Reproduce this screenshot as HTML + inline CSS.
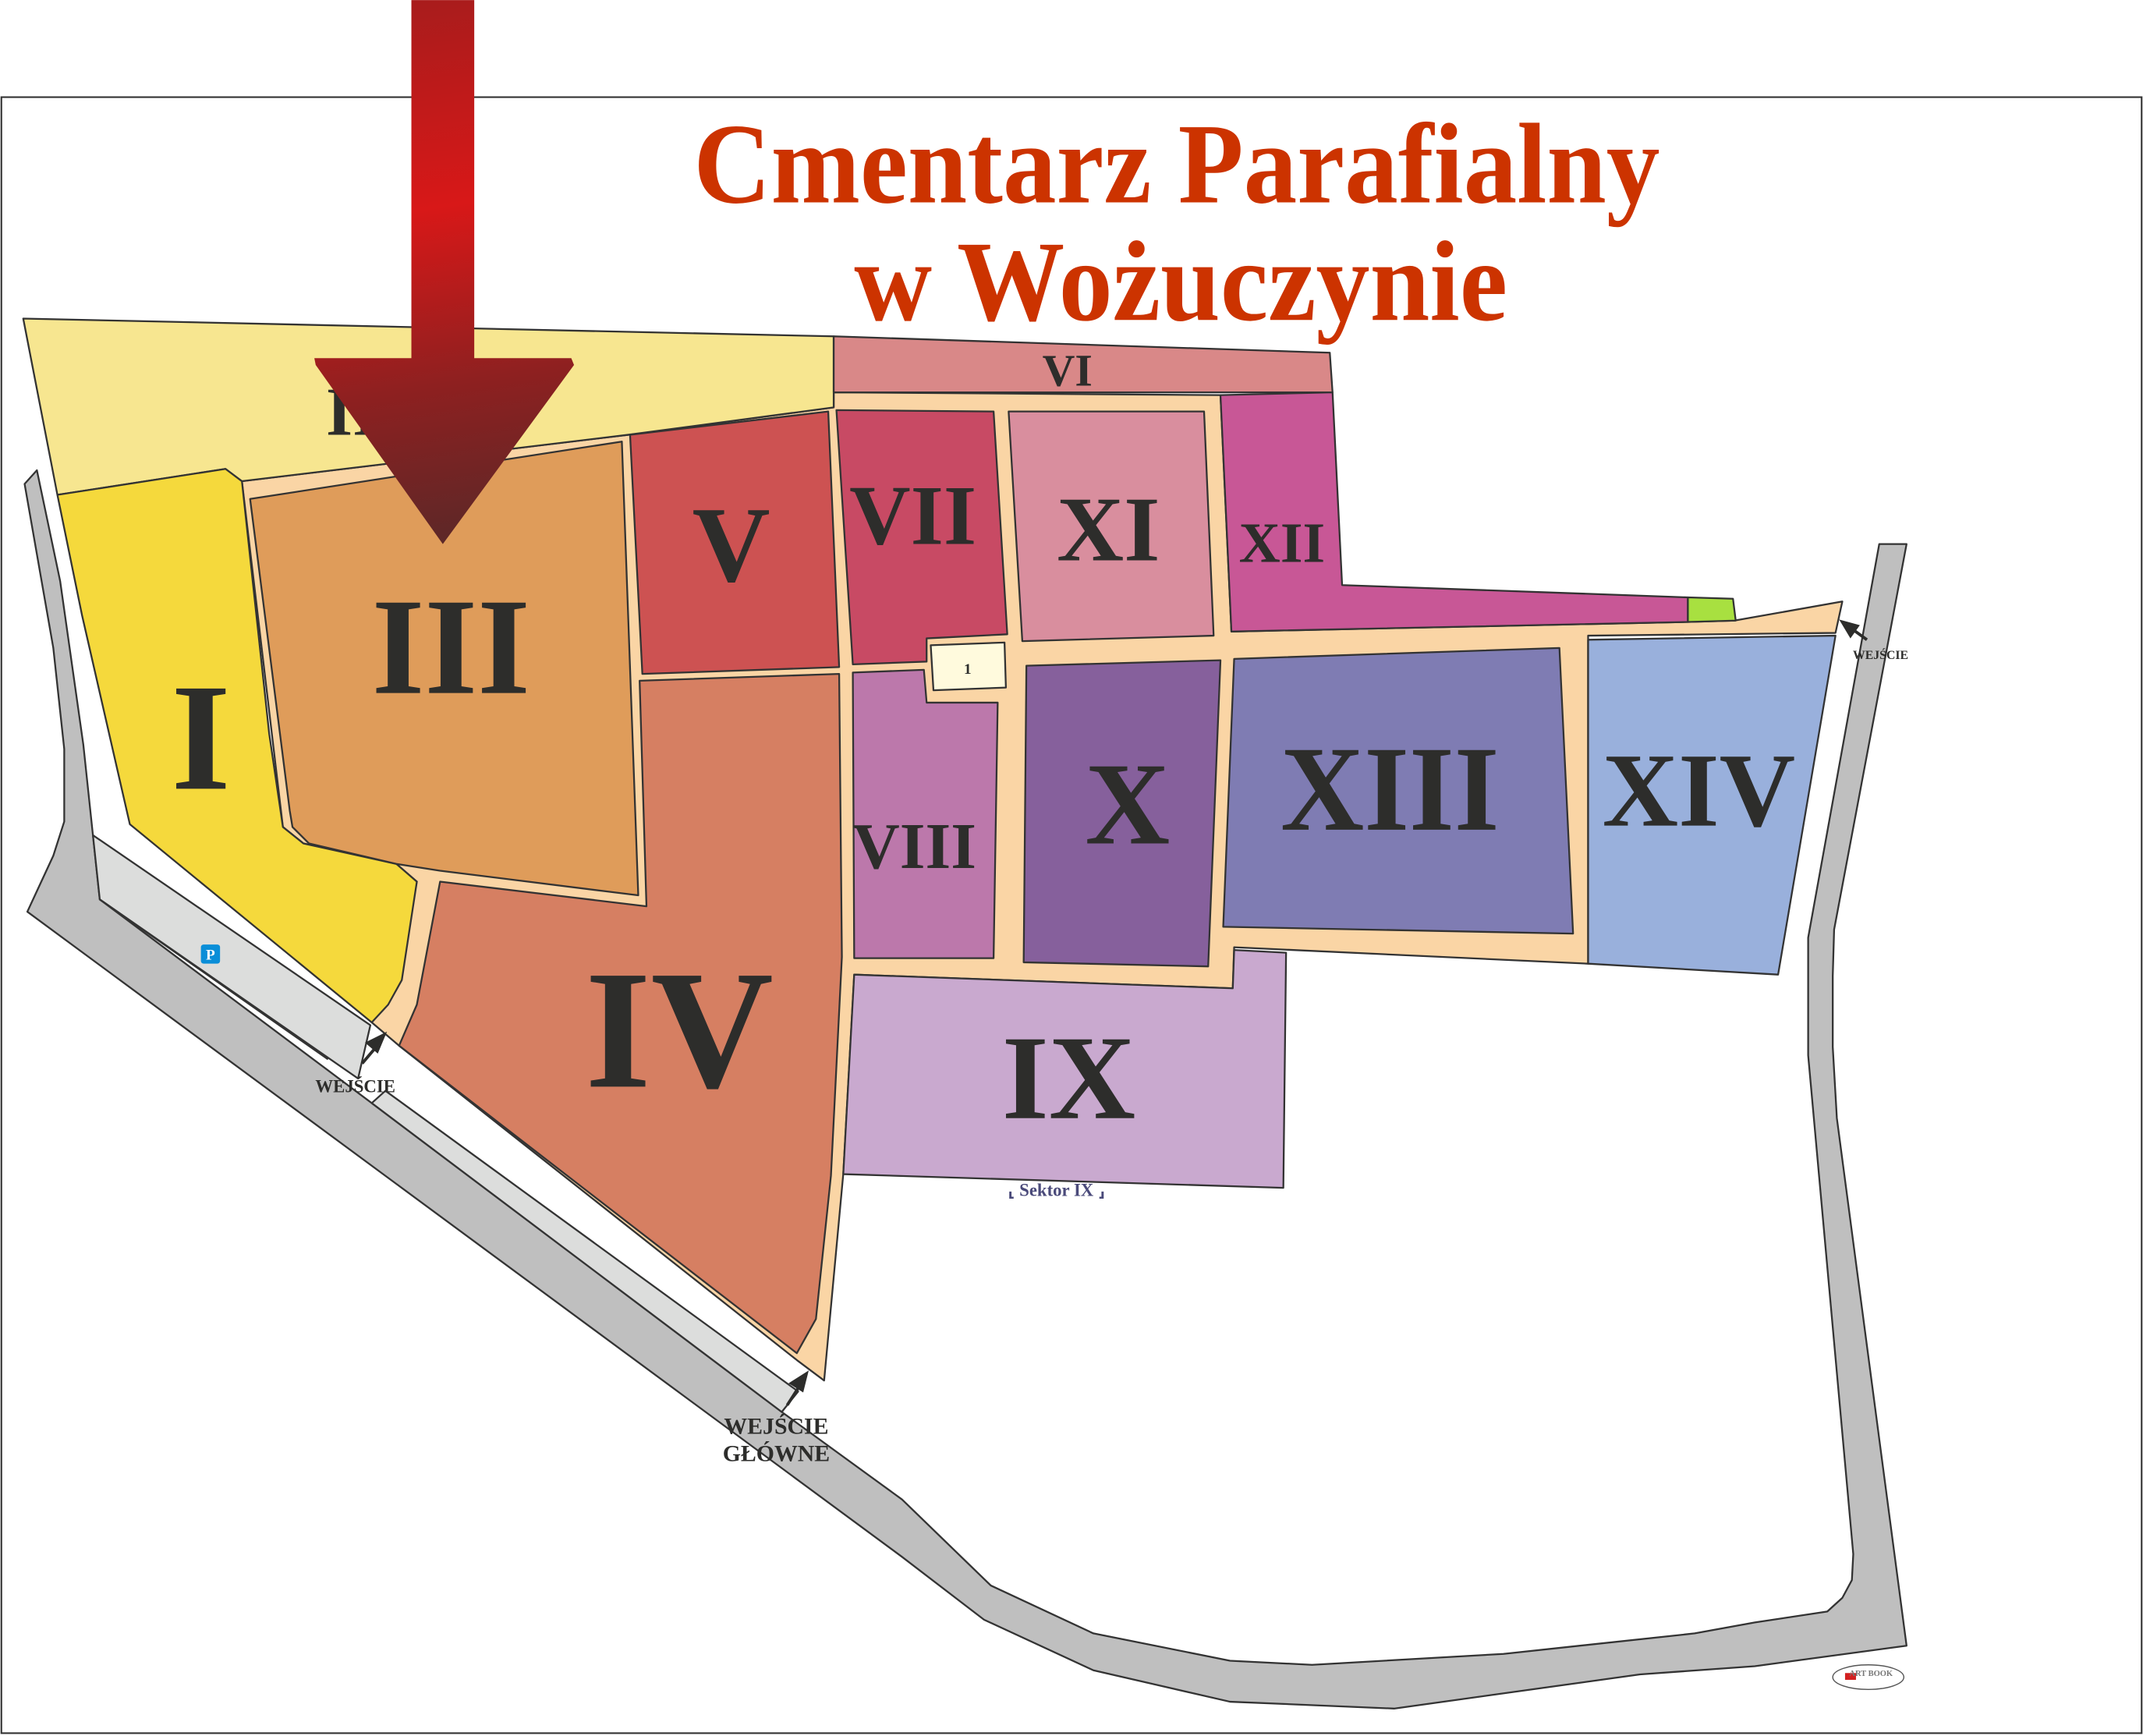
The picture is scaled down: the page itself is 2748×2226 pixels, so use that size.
<!DOCTYPE html>
<html><head><meta charset="utf-8"><style>
html,body{margin:0;padding:0;background:#fff;}
svg{display:block;}
text{font-family:"Liberation Serif",serif;font-weight:bold;}
</style></head><body>
<svg width="2748" height="2226" viewBox="0 0 1568 1270" xmlns="http://www.w3.org/2000/svg">
<defs>
<linearGradient id="ag" gradientUnits="userSpaceOnUse" x1="300" y1="0" x2="360" y2="398">
<stop offset="0" stop-color="#a81c1c"/>
<stop offset="0.38" stop-color="#d81818"/>
<stop offset="0.7" stop-color="#8e2020"/>
<stop offset="1" stop-color="#5a2828"/>
</linearGradient>
</defs>
<rect x="0" y="0" width="1568" height="1270" fill="#fff"/>
<rect x="1" y="71" width="1566" height="1197" fill="#fff" stroke="#333" stroke-width="1.2"/>

<g stroke="#333" stroke-width="1.3" stroke-linejoin="round">
<path fill="#bfbfbf" d="M27,344 L44,425 L61,545 L68,611 L73,658 L272,807 L572,1033 L660,1097 L725,1160 L800,1195 L900,1215 L960,1218 L1100,1210 L1240,1195 L1284,1187 L1337,1179 L1348,1169 L1355,1156 L1356,1137 L1323,772 L1323,686 L1375,398 L1395,398 L1342,680 L1341,714 L1341,766 L1344,818 L1395,1204 L1284,1219 L1200,1225 L1020,1250 L900,1245 L800,1222 L720,1185 L660,1139 L20,667 L39,626 L47,601 L47,548 L39,474 L18,354 Z"/>
<path fill="#dcdddc" d="M68,611 L271,750 L262,789 L73,658 Z"/>
<path fill="#dcdddc" d="M282,798 L584,1018 L572,1033 L272,807 Z"/>
<path fill="none" d="M73,658 L240,775"/>
<path fill="#fad5a5" d="M177,352 L460,318 L610,298 L610,287 L893,289 L901,462 L1235,455 L1269,454 L1348,440 L1343,463 L1162,465 L1162,705 L903,693 L902,723 L625,713 L617,859 L603,1010 L583,995 L292,765 L272,748 L290,720 L305,645 L290,632 L222,617 L207,605 Z"/>
<path fill="#f7e690" d="M17,233 L610,246 L610,298 L460,318 L177,352 L165,343 L42,362 Z"/>
<path fill="#f5d93c" d="M42,362 L165,343 L177,352 L197,537 L207,605 L222,617 L290,632 L305,645 L294,717 L284,735 L272,748 L95,603 L60,450 Z"/>
<path fill="#df9c5a" d="M183,365 L455,323 L467,655 L322,637 L290,632 L226,617 L214,605 L212,593 Z"/>
<path fill="#d67f62" d="M468,498 L614,493 L616,700 L608,860 L597,965 L583,990 L292,765 L305,735 L322,645 L473,663 Z"/>
<path fill="#cd5252" d="M461,318 L606,301 L614,488 L470,493 Z"/>
<path fill="#d98888" d="M610,246 L973,258 L975,287 L610,287 Z"/>
<path fill="#c84a64" d="M612,300 L727,301 L737,464 L678,467 L678,484 L624,486 Z"/>
<path fill="#d98e9e" d="M738,301 L881,301 L888,465 L748,469 Z"/>
<path fill="#c85796" d="M893,289 L975,287 L982,428 L1235,437 L1235,455 L901,462 Z"/>
<path fill="#a8e040" d="M1235,437 L1268,438 L1270,454 L1235,455 Z"/>
<path fill="#fffadd" d="M681,472 L735,470 L736,503 L683,505 Z"/>
<path fill="#bc78ab" d="M624,492 L676,490 L678,514 L730,514 L727,701 L625,701 Z"/>
<path fill="#86609c" d="M751,487 L893,483 L884,707 L749,704 Z"/>
<path fill="#7f7cb3" d="M903,482 L1141,474 L1151,683 L895,678 Z"/>
<path fill="#99b0dc" d="M1162,468 L1343,465 L1301,713 L1162,705 Z"/>
<path fill="#c9a9cf" d="M625,713 L902,723 L903,695 L941,697 L939,869 L617,859 Z"/>
</g>

<g fill="#2d2d2b" text-anchor="middle">
<text x="258" y="318" font-size="50">II</text>
<text x="147" y="577" font-size="112">I</text>
<text x="330" y="507" font-size="101" textLength="116" lengthAdjust="spacingAndGlyphs">III</text>
<text x="497" y="795" font-size="124">IV</text>
<text x="535" y="425" font-size="79">V</text>
<text x="668" y="398" font-size="62">VII</text>
<text x="811" y="410" font-size="68">XI</text>
<text x="938" y="411" font-size="42">XII</text>
<text x="781" y="282" font-size="33">VI</text>
<text x="825" y="617" font-size="86">X</text>
<text x="1017" y="607" font-size="89" textLength="160" lengthAdjust="spacingAndGlyphs">XIII</text>
<text x="1243" y="604" font-size="77">XIV</text>
<text x="669" y="635" font-size="48">VIII</text>
<text x="782" y="818" font-size="88">IX</text>
<text x="708" y="493" font-size="11" font-weight="normal">1</text>
<text x="773" y="875" font-size="13" fill="#4a4a7a">⸤ Sektor IX ⸥</text>
<text x="260" y="799" font-size="13">WEJŚCIE</text>
<text x="568" y="1049" font-size="17">WEJŚCIE</text>
<text x="568" y="1069" font-size="17">GŁÓWNE</text>
<text x="1376" y="482" font-size="9">WEJŚCIE</text>
</g>

<g stroke="#2d2d2b" stroke-width="2.2" fill="#2d2d2b">
<line x1="265" y1="778" x2="276" y2="765"/>
<path d="M281,757 L269,763 L276,769 Z"/>
<line x1="576" y1="1028" x2="585" y2="1014"/>
<path d="M590,1005 L579,1012 L587,1017 Z"/>
<line x1="1366" y1="468" x2="1355" y2="460"/>
<path d="M1348,455 L1354,465 L1359,458 Z"/>
</g>

<rect x="147" y="691" width="14" height="14" rx="2" fill="#0a8ed8"/>
<text x="154" y="702" font-size="11" fill="#fff" text-anchor="middle" font-family="Liberation Sans,sans-serif">P</text>

<ellipse cx="1367" cy="1227" rx="26" ry="9" fill="none" stroke="#555" stroke-width="0.8"/>
<rect x="1350" y="1224" width="8" height="5" fill="#d32020"/>
<text x="1369" y="1226" font-size="6" fill="#777" text-anchor="middle" font-family="Liberation Sans,sans-serif">ART BOOK</text>

<path d="M301,0 L347,0 L347,262 L418,262 L420,267 L324,398 L231,267 L230,262 L301,262 Z" fill="url(#ag)"/>

<g fill="#cc3300" text-anchor="middle">
<text x="861" y="148" font-size="84" textLength="707" lengthAdjust="spacingAndGlyphs">Cmentarz Parafialny</text>
<text x="864" y="234" font-size="84" textLength="478" lengthAdjust="spacingAndGlyphs">w Wożuczynie</text>
</g>
</svg>
</body></html>
